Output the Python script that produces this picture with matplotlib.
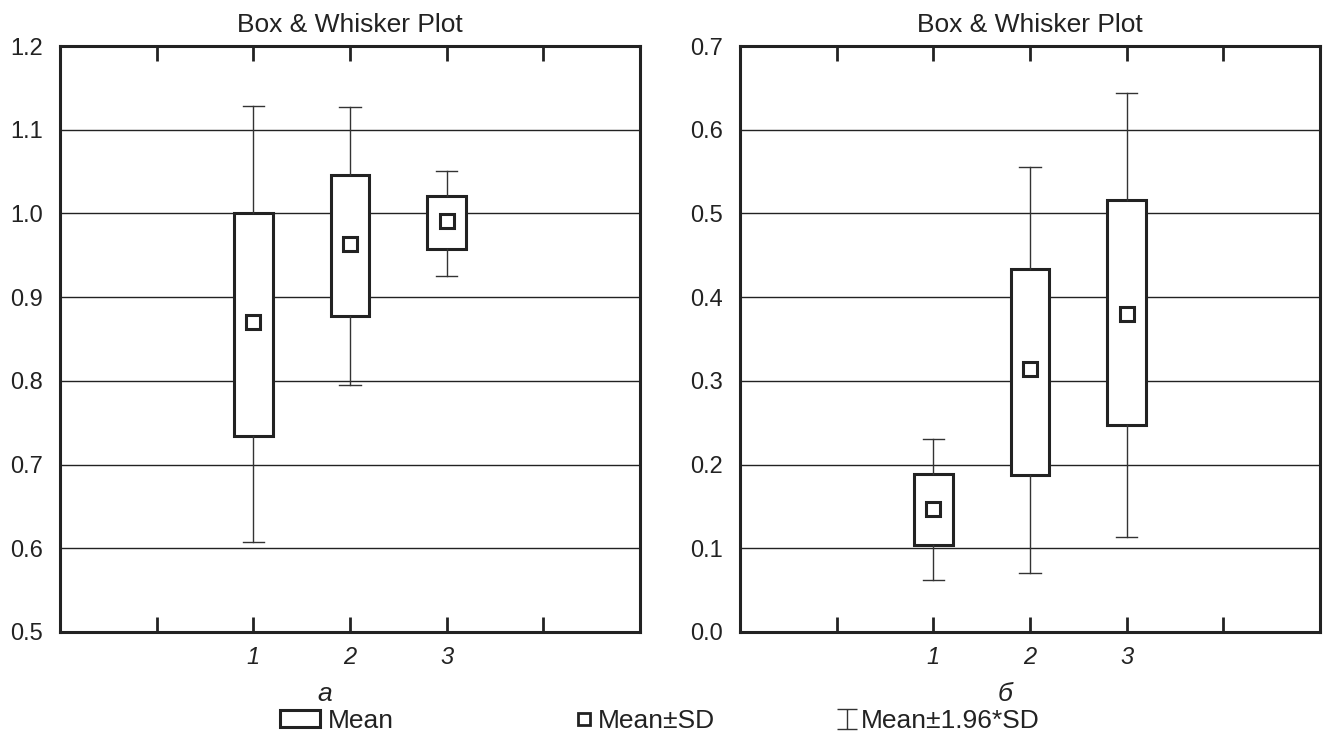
import matplotlib
matplotlib.use('Agg')
import matplotlib.pyplot as plt
from matplotlib.patches import Rectangle
from matplotlib.lines import Line2D
from matplotlib.path import Path

plt.rcParams['font.family'] = ['Liberation Sans', 'DejaVu Sans']

groups = ['1', '2', '3']

# panel a
mean_a = [0.870, 0.963, 0.991]
sd_lo_a = [0.734, 0.877, 0.957]
sd_hi_a = [1.000, 1.046, 1.021]
ci_lo_a = [0.607, 0.795, 0.925]
ci_hi_a = [1.128, 1.127, 1.051]

# panel b
mean_b = [0.147, 0.314, 0.380]
sd_lo_b = [0.104, 0.188, 0.247]
sd_hi_b = [0.189, 0.434, 0.516]
ci_lo_b = [0.062, 0.070, 0.114]
ci_hi_b = [0.230, 0.555, 0.644]

fs = 17
fs_big = 19

fig = plt.figure(figsize=(13.26, 7.37), dpi=100)
ax1 = fig.add_axes([60 / 1326, 1 - 632 / 737, 580 / 1326, 586 / 737])
ax2 = fig.add_axes([740 / 1326, 1 - 632 / 737, 580 / 1326, 586 / 737])


def draw(ax, means, lo, hi, wlo, whi, ylim, yticks, sub):
    stats = []
    for i in range(len(means)):
        stats.append({'med': means[i], 'mean': means[i], 'q1': lo[i], 'q3': hi[i],
                      'whislo': wlo[i], 'whishi': whi[i], 'fliers': []})
    ax.bxp(stats, positions=[1, 2, 3], widths=0.4, capwidths=0.22,
           showmeans=True, showfliers=False, patch_artist=True,
           boxprops=dict(facecolor='white', edgecolor='#222222', linewidth=2.2),
           whiskerprops=dict(color='#333333', linewidth=1.0),
           capprops=dict(color='#333333', linewidth=1.0),
           medianprops=dict(linestyle='none'),
           meanprops=dict(marker='s', markersize=10, markerfacecolor='white',
                          markeredgecolor='#222222', markeredgewidth=2.2),
           zorder=3)
    ax.set_xlim(-1, 5)
    ax.set_ylim(*ylim)
    ax.set_yticks(yticks)
    ax.set_yticklabels(['%.1f' % v for v in yticks], fontsize=fs, color='#222222')
    ax.set_xticks([0, 1, 2, 3, 4])
    ax.set_xticklabels([''] + groups + [''], fontsize=fs, style='italic', color='#222222')
    ax.tick_params(axis='x', direction='in', top=True, length=11, width=2, pad=10, color='#222222')
    ax.tick_params(axis='y', length=0, pad=12)
    ax.yaxis.grid(True, color='#222222', linewidth=1.0)
    ax.set_axisbelow(True)
    for s in ax.spines.values():
        s.set_linewidth(2.2)
        s.set_color('#222222')
    ax.set_title('Box & Whisker Plot', fontsize=fs_big, pad=10, color='#222222')
    ax.set_xlabel(sub, fontsize=fs_big, style='italic', color='#222222')
    ax.xaxis.set_label_coords(0.457, -0.085)


draw(ax1, mean_a, sd_lo_a, sd_hi_a, ci_lo_a, ci_hi_a, (0.5, 1.2),
     [0.5, 0.6, 0.7, 0.8, 0.9, 1.0, 1.1, 1.2], 'а')
draw(ax2, mean_b, sd_lo_b, sd_hi_b, ci_lo_b, ci_hi_b, (0.0, 0.7),
     [0.0, 0.1, 0.2, 0.3, 0.4, 0.5, 0.6, 0.7], 'б')

# legend
ibeam = Path([(-1, 1), (1, 1), (0, 1), (0, -1), (-1, -1), (1, -1)],
             [Path.MOVETO, Path.LINETO, Path.MOVETO, Path.LINETO, Path.MOVETO, Path.LINETO])
h_box = Rectangle((0, 0), 1, 1, facecolor='white', edgecolor='#222222', linewidth=2.2)
h_mean = Line2D([], [], marker='s', linestyle='none', markersize=8, markerfacecolor='white',
                markeredgecolor='#222222', markeredgewidth=2)
h_ci = Line2D([], [], marker=ibeam, linestyle='none', markersize=14, markeredgewidth=1.0,
              color='#333333')

leg_items = [(h_box, 'Mean', 280, 1.5), (h_mean, 'Mean±SD', 578, 0.45), (h_ci, 'Mean±1.96*SD', 841, 0.45)]
for h, lab, xpix, hl in leg_items:
    lg = fig.legend([h], [lab], loc='center left', bbox_to_anchor=(xpix / 1326, 1 - 721 / 737),
                    frameon=False, fontsize=fs_big, handlelength=hl, handleheight=0.62,
                    handletextpad=0.3, borderpad=0, borderaxespad=0)
    for t in lg.get_texts():
        t.set_color('#222222')

fig.savefig('out.png', dpi=100)
